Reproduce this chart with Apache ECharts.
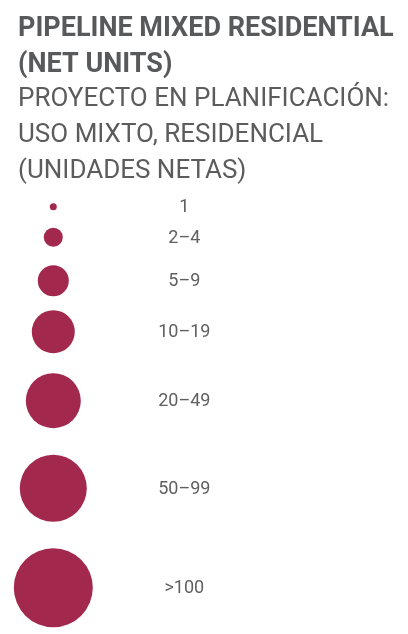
<!DOCTYPE html>
<html><head><meta charset="utf-8">
<script src="https://cdn.jsdelivr.net/npm/echarts@6/dist/echarts.min.js"></script>
<style>html,body{margin:0;padding:0;background:#fff}#c{width:408px;height:634px}</style>
</head><body><div id="c"></div>
<script>
// ---- data ----
const titleLines = ['PIPELINE MIXED RESIDENTIAL', '(NET UNITS)'];
const subtitleLines = ['PROYECTO EN PLANIFICACIÓN:', 'USO MIXTO, RESIDENCIAL', '(UNIDADES NETAS)'];
const categories = ['1', '2–4', '5–9', '10–19', '20–49', '50–99', '>100'];
const bubbleDiameters = [7, 19, 31, 43, 55, 67, 79];

// ---- layout ----
const W = 408, H = 634;
const firstCenter = 206.7;
const rowPads = [17.6, 18.4, 14, 20, 26.6, 26.4];
const bubbleX = 53.3;
const labelOffsetX = 131;
const bubbleColor = '#a2294d';
const textColor = '#5c5c5c';

const centers = [];
bubbleDiameters.forEach((d, i) => {
  if (i === 0) centers.push(firstCenter);
  else centers.push(centers[i - 1] + bubbleDiameters[i - 1] / 2 + d / 2 + rowPads[i - 1]);
});

const seriesData = categories.map((c, i) => ({
  name: c,
  value: [bubbleX, centers[i]],
  symbolSize: bubbleDiameters[i]
}));

const chart = echarts.init(document.getElementById('c'), null, {renderer: 'canvas'});
chart.setOption({
  animation: false,
  title: {
    left: 13, top: 6,
    text: titleLines.join('\n'),
    subtext: subtitleLines.join('\n'),
    itemGap: -2,
    textStyle: {fontFamily: 'Roboto', fontWeight: 'bold', fontSize: 27, lineHeight: 36, color: '#58595b'},
    subtextStyle: {fontFamily: 'Roboto', fontWeight: 'normal', fontSize: 26, lineHeight: 36, color: textColor}
  },
  grid: {left: 0, right: 0, top: 0, bottom: 0},
  xAxis: {type: 'value', min: 0, max: W, show: false},
  yAxis: {type: 'value', min: 0, max: H, inverse: true, show: false},
  series: [{
    type: 'scatter',
    symbol: 'circle',
    data: seriesData,
    itemStyle: {color: bubbleColor, opacity: 1},
    label: {
      show: true,
      position: 'inside',
      offset: [labelOffsetX, 1],
      formatter: p => p.name,
      fontFamily: 'Roboto',
      fontSize: 18,
      color: '#606060'
    },
    emphasis: {disabled: true},
    silent: true
  }]
});
</script></body></html>
